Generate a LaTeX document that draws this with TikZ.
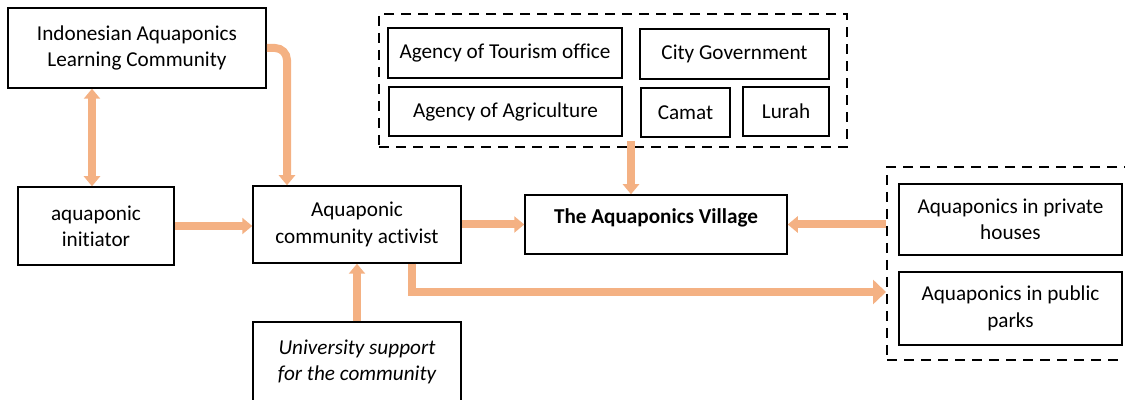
\documentclass[tikz,border=0pt]{standalone}
\usepackage{fontspec}
\setmainfont{Carlito}[Ligatures=CommonOff]
\usetikzlibrary{arrows.meta,calc}
\definecolor{peach}{HTML}{F4B183}
\begin{document}
\begin{tikzpicture}[x=0.5pt,y=-0.5pt,
  box/.style={draw, line width=0.75pt, inner sep=0pt, align=center,
    font=\fontsize{10.6}{13.2}\selectfont},
  groupbox/.style={draw, line width=1pt, dash pattern=on 5pt off 3.5pt, inner sep=0pt},
  arr/.style={draw=peach, line width=4pt, -{Triangle[width=8pt,length=5pt]}},
  bigarr/.style={draw=peach, line width=4pt, -{Triangle[width=12pt,length=6.5pt]}},
  dblarr/.style={draw=peach, line width=4pt, {Triangle[width=8pt,length=5pt]}-{Triangle[width=8pt,length=5pt]}}]
\useasboundingbox (0,0) rectangle (1125,400);
\clip (0,0) rectangle (1125,400);

% left column
\node[box, minimum width=129pt, minimum height=40pt] (ialc) at (137,48)
  {Indonesian Aquaponics\\Learning Community};
\node[box, minimum width=78pt, minimum height=39pt] (init) at (96,226)
  {aquaponic\\initiator};

% centre column
\node[box, minimum width=104pt, minimum height=38.5pt] (act) at (357,224.5)
  {Aquaponic\\community activist};
\node[box, minimum width=104pt, minimum height=40pt] (univ) at (357,362)
  {\itshape University support\\\itshape for the community};
\node[box, minimum width=131pt, minimum height=29.5pt, text depth=8pt,
  font=\fontsize{10.6}{13.2}\selectfont\bfseries] (vill) at (656,224.5)
  {The Aquaponics Village};

% government group
\node[groupbox, minimum width=234pt, minimum height=66.5pt] (gov) at (613,80.5) {};
\node[box, minimum width=117pt, minimum height=25pt] (tour) at (505,53) {Agency of Tourism office};
\node[box, minimum width=94.5pt, minimum height=25pt] (city) at (734.5,54) {City Government};
\node[box, minimum width=116.5pt, minimum height=24.5pt] (agri) at (505.5,111.5) {Agency of Agriculture};
\node[box, minimum width=44.5pt, minimum height=24.5pt] (camat) at (685.5,112.5) {Camat};
\node[box, minimum width=43pt, minimum height=24.5pt] (lurah) at (786,111.5) {Lurah};

% outcome group
\node[groupbox, minimum width=124pt, minimum height=96.5pt] (out) at (1011,263.5) {};
\node[box, minimum width=111.5pt, minimum height=35.5pt] (priv) at (1010.5,219.5)
  {Aquaponics in private\\houses};
\node[box, minimum width=111.5pt, minimum height=36.5pt] (parks) at (1010.5,308.5)
  {Aquaponics in public\\parks};

% connectors
\draw[dblarr] ([xshift=-2pt]init.north) -- ([xshift=-2pt]init.north |- ialc.south);
\draw[arr, rounded corners=6pt] (ialc.east) -| ([xshift=-35pt]act.north);
\draw[arr] (init.east) -- (init.east -| act.west);
\draw[arr] (act.east) -- (vill.west);
\draw[arr] ($(gov.south -| vill.north)+(-12.5pt,3.5pt)$) -- ([xshift=-12.5pt]vill.north);
\draw[arr] (out.west |- vill.east) -- (vill.east);
\draw[bigarr] ([xshift=27.5pt]act.south) |- ([yshift=-14.25pt]out.west);
\draw[arr] (univ.north) -- (act.south);
\end{tikzpicture}
\end{document}
